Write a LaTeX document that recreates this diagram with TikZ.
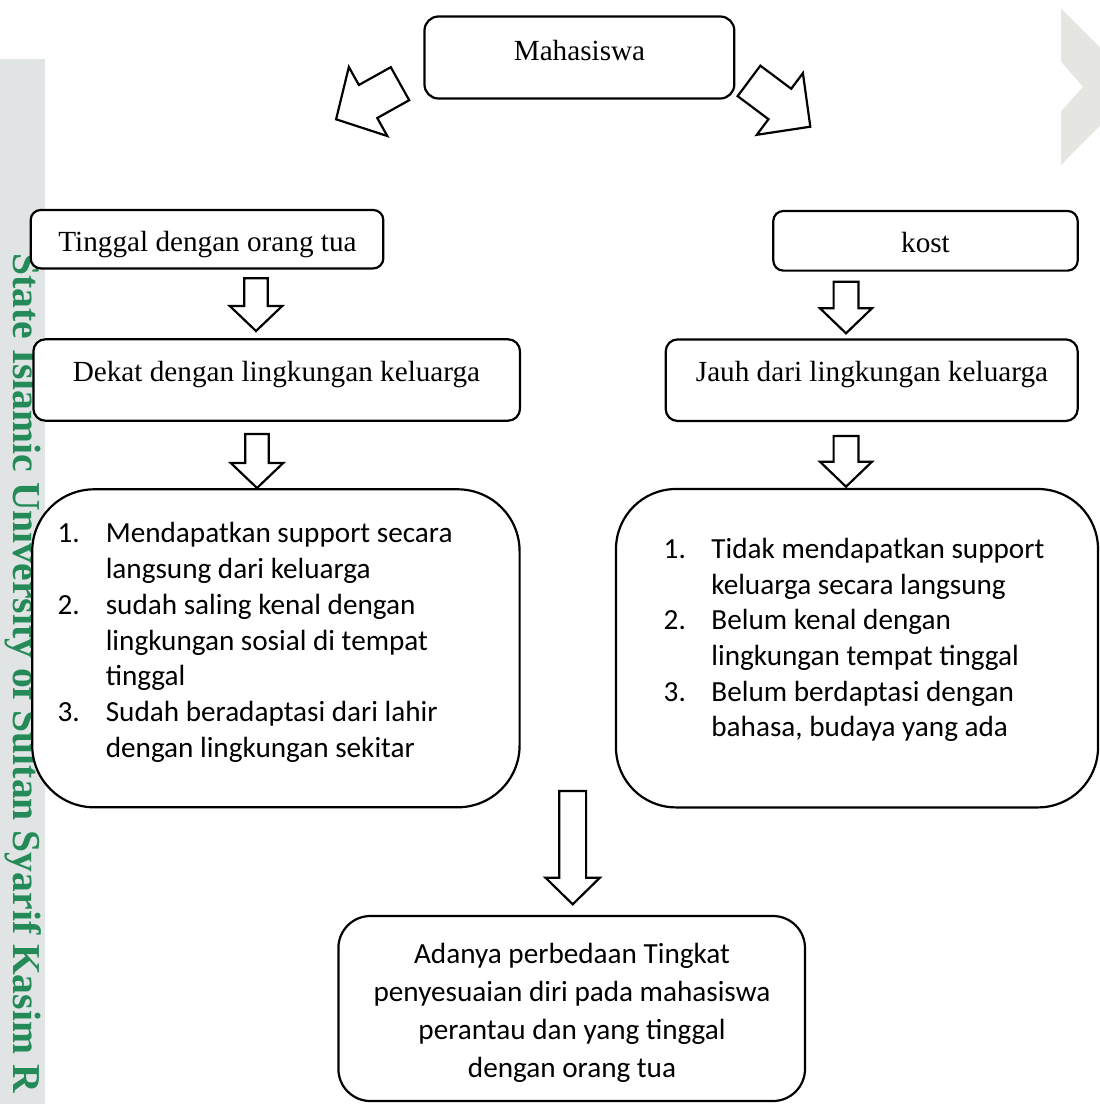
\documentclass[tikz,border=0pt]{standalone}
\usepackage{fontspec}
\setmainfont{Liberation Serif}
\newfontfamily\calib{Carlito}
\usetikzlibrary{calc}
\definecolor{wmgreen}{RGB}{36,138,88}
\definecolor{stripgray}{RGB}{224,228,228}
\definecolor{chevgray}{RGB}{229,229,226}
% block arrow from coordinate #1 to coordinate #2
% #3 half shaft width, #4 half head width, #5 head length
\newcommand\blockarrow[5]{%
  \coordinate (#1-h) at ($(#2)!#5!(#1)$);
  \draw[blockarr] ($(#1)!#3!90:(#2)$) -- ($(#1-h)!#3!90:(#2)$) -- ($(#1-h)!#4!90:(#2)$) -- (#2)
     -- ($(#1-h)!#4!-90:(#2)$) -- ($(#1-h)!#3!-90:(#2)$) -- ($(#1)!#3!-90:(#2)$) -- cycle;}
\begin{document}
\begin{tikzpicture}[x=0.5pt,y=-0.5pt,
  box/.style={draw, line width=1.1pt, fill=white, inner sep=0pt},
  blockarr/.style={draw, line width=1.1pt, fill=white, line join=miter},
  serif/.style={font=\fontsize{14.6}{17}\selectfont, inner sep=0pt},
  sans/.style={font=\calib\fontsize{14.6}{17}\selectfont, inner sep=0pt}]
\useasboundingbox (0,0) rectangle (1099,1104);
\fill[white] (0,0) rectangle (1099,1104);
% watermark decorations
\fill[stripgray] (0,59) rectangle (45,1104);
\fill[chevgray] (1061,8.3) -- (1139,86.7) -- (1061,165) -- (1061,111.7) -- (1083,86.7) -- (1061,61.7) -- cycle;
\node[rotate=-90, anchor=base west, inner sep=0pt, text=wmgreen,
      font=\bfseries\fontsize{19.8}{21}\selectfont] (wm) at (13,253)
      {State Islamic University of Sultan Syarif Kasim R};

% boxes
\node[box, rounded corners=7pt, minimum width=154.9pt, minimum height=41pt] (mhs) at (579.4,57.5) {};
\node[box, rounded corners=5pt, minimum width=176.3pt, minimum height=29.2pt] (tinggal) at (207,239.2) {};
\node[box, rounded corners=5pt, minimum width=152.2pt, minimum height=29.8pt] (kost) at (925.5,240.8) {};
\node[box, rounded corners=6pt, minimum width=243.3pt, minimum height=40.7pt] (dekat) at (276.7,380) {};
\node[box, rounded corners=6pt, minimum width=206pt, minimum height=40.8pt] (jauh) at (871.7,380.2) {};
\node[box, rounded corners=31pt, minimum width=243.7pt, minimum height=159pt] (lbig) at (275.9,648.3) {};
\node[box, rounded corners=30pt, minimum width=241pt, minimum height=159.2pt] (rbig) at (857,648.2) {};
\node[box, rounded corners=16pt, minimum width=233.3pt, minimum height=92.5pt] (hasil) at (571.7,1008.5) {};

% texts
\node[serif, anchor=base] (mhsT) at (579.5,60.7) {Mahasiswa};
\node[serif, anchor=base] (tinggalT) at (207.5,251.7) {Tinggal dengan orang tua};
\node[serif, anchor=base] (kostT) at (925.5,252.7) {kost};
\node[serif, anchor=base] (dekatT) at (276.5,381.5) {Dekat dengan lingkungan keluarga};
\node[serif, anchor=base] (jauhT) at (872,381.7) {Jauh dari lingkungan keluarga};

\node[sans, anchor=base west] (ln1) at (57.1,542.7) {1.};
\node[sans, anchor=base west] (ln2) at (57.1,614.3) {2.};
\node[sans, anchor=base west] (ln3) at (57.1,721.7) {3.};
\node[sans, anchor=base west] (l1) at (105.4,542.7) {Mendapatkan support secara};
\node[sans, anchor=base west] (l2) at (105.4,578.5) {langsung dari keluarga};
\node[sans, anchor=base west] (l3) at (105.4,614.3) {sudah saling kenal dengan};
\node[sans, anchor=base west] (l4) at (105.4,650.1) {lingkungan sosial di tempat};
\node[sans, anchor=base west] (l5) at (105.4,685.9) {tinggal};
\node[sans, anchor=base west] (l6) at (105.4,721.7) {Sudah beradaptasi dari lahir};
\node[sans, anchor=base west] (l7) at (105.4,757.5) {dengan lingkungan sekitar};

\node[sans, anchor=base west] (rn1) at (663.3,558.3) {1.};
\node[sans, anchor=base west] (rn2) at (663.3,629.7) {2.};
\node[sans, anchor=base west] (rn3) at (663.3,701.1) {3.};
\node[sans, anchor=base west] (r1) at (711,558.3) {Tidak mendapatkan support};
\node[sans, anchor=base west] (r2) at (711,594) {keluarga secara langsung};
\node[sans, anchor=base west] (r3) at (711,629.7) {Belum kenal dengan};
\node[sans, anchor=base west] (r4) at (711,665.4) {lingkungan tempat tinggal};
\node[sans, anchor=base west] (r5) at (711,701.1) {Belum berdaptasi dengan};
\node[sans, anchor=base west] (r6) at (711,736.8) {bahasa, budaya yang ada};

\node[sans, anchor=base] (h1) at (572,963) {Adanya perbedaan Tingkat};
\node[sans, anchor=base] (h2) at (572,1001.3) {penyesuaian diri pada mahasiswa};
\node[sans, anchor=base] (h3) at (572,1039.6) {perantau dan yang tinggal};
\node[sans, anchor=base] (h4) at (572,1077.9) {dengan orang tua};

% arrow end points
\coordinate (dl-s) at (400,83.7);   \coordinate (dl-e) at (336.1,119.3);
\coordinate (dr-s) at (749,80.9);   \coordinate (dr-e) at (810.3,126.7);
\coordinate (a1-s) at (256,278.3);  \coordinate (a1-e) at (256,331);
\coordinate (a2-s) at (257,434);    \coordinate (a2-e) at (257,488);
\coordinate (b1-s) at (846,281.7);  \coordinate (b1-e) at (846,333.3);
\coordinate (b2-s) at (846,436);    \coordinate (b2-e) at (846,486.7);
\coordinate (c-s) at (572.7,791);   \coordinate (c-e) at (572.7,904.3);

\blockarrow{dl-s}{dl-e}{9.45pt}{19.75pt}{18.3pt}
\blockarrow{dr-s}{dr-e}{9.5pt}{19.25pt}{19pt}
\blockarrow{a1-s}{a1-e}{5.9pt}{13.1pt}{12.5pt}
\blockarrow{a2-s}{a2-e}{5.9pt}{13.1pt}{12.5pt}
\blockarrow{b1-s}{b1-e}{6.2pt}{13pt}{12.5pt}
\blockarrow{b2-s}{b2-e}{6.2pt}{13pt}{12.5pt}
\blockarrow{c-s}{c-e}{6.7pt}{13.6pt}{13.3pt}
\end{tikzpicture}
\end{document}
